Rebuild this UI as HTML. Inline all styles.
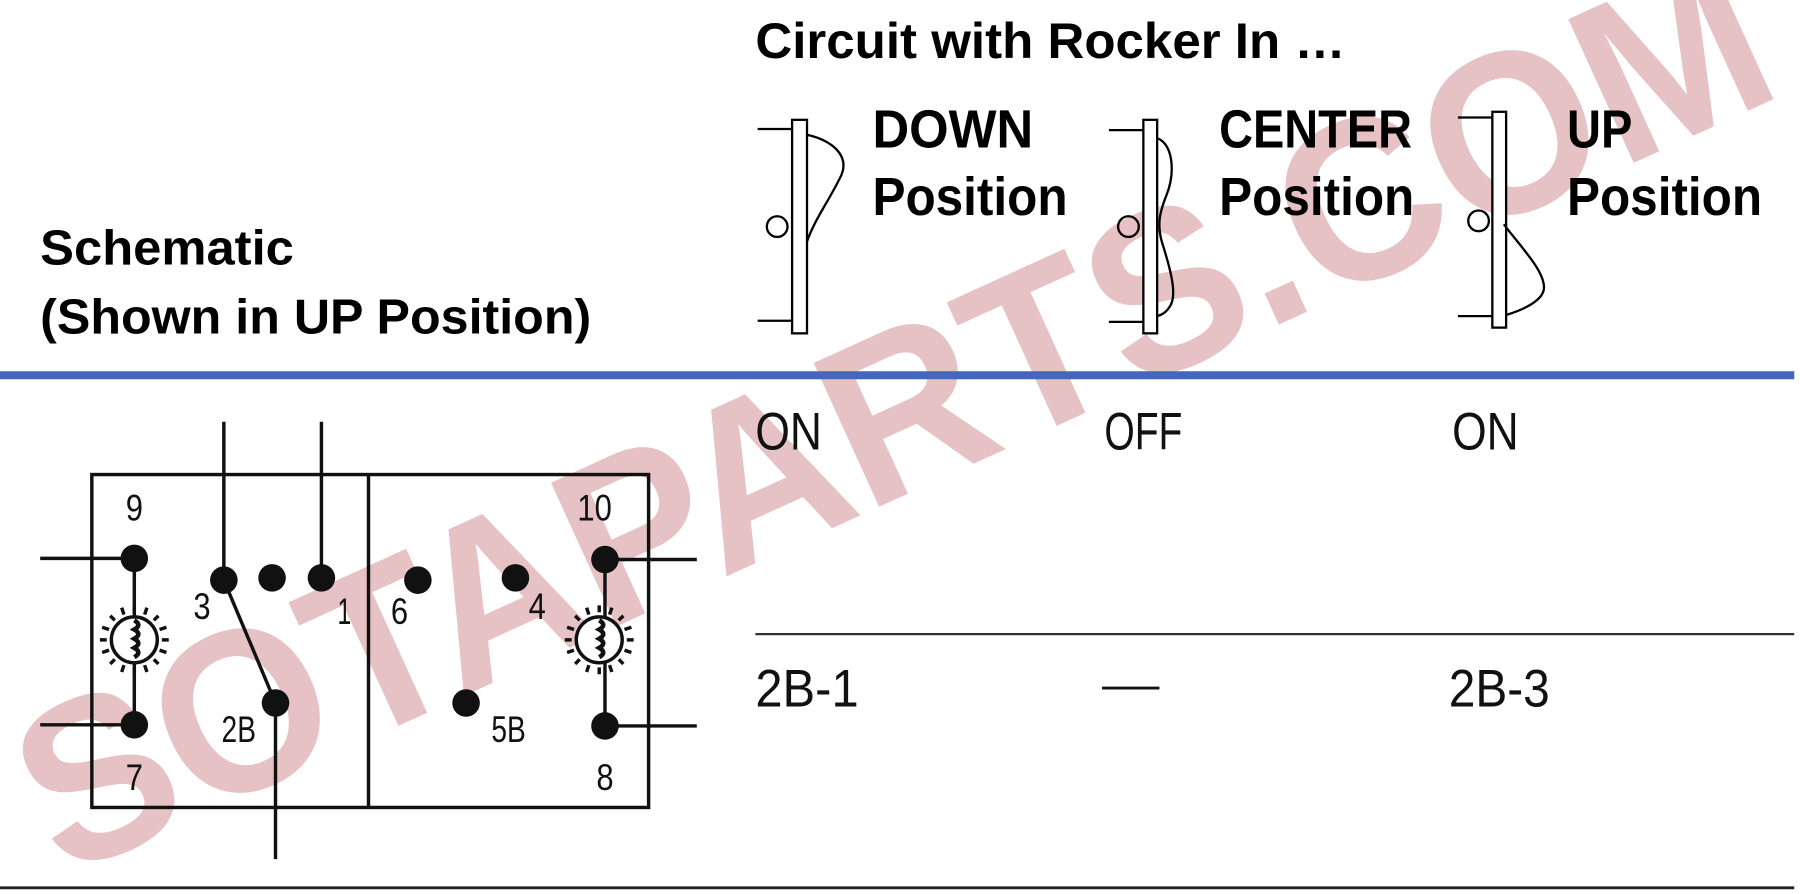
<!DOCTYPE html>
<html><head><meta charset="utf-8"><style>
html,body{margin:0;padding:0;background:#fff;}
svg{display:block;}
text{font-family:"Liberation Sans",sans-serif;}
</style></head><body>
<svg width="1800" height="894" viewBox="0 0 1568 778" xmlns="http://www.w3.org/2000/svg">
<!-- watermark -->
<text x="0" y="0" transform="translate(55,765) rotate(-24.5)" font-size="200" font-weight="bold" fill="#d9a3a6" opacity="0.65" textLength="1650" lengthAdjust="spacingAndGlyphs">SOTAPARTS.COM</text>

<!-- headers -->
<g font-weight="bold" fill="#000">
<text x="658" y="50" font-size="44" textLength="514" lengthAdjust="spacingAndGlyphs">Circuit with Rocker In …</text>
<text x="760" y="128" font-size="47" textLength="140" lengthAdjust="spacingAndGlyphs">DOWN</text>
<text x="760" y="187" font-size="47" textLength="170" lengthAdjust="spacingAndGlyphs">Position</text>
<text x="1062" y="128" font-size="47" textLength="168" lengthAdjust="spacingAndGlyphs">CENTER</text>
<text x="1062" y="187" font-size="47" textLength="170" lengthAdjust="spacingAndGlyphs">Position</text>
<text x="1365" y="128" font-size="47" textLength="57" lengthAdjust="spacingAndGlyphs">UP</text>
<text x="1365" y="187" font-size="47" textLength="170" lengthAdjust="spacingAndGlyphs">Position</text>
<text x="35" y="230" font-size="43" textLength="221" lengthAdjust="spacingAndGlyphs">Schematic</text>
<text x="35" y="290" font-size="43" textLength="480" lengthAdjust="spacingAndGlyphs">(Shown in UP Position)</text>
</g>

<!-- rockers -->
<g fill="none" stroke="#000" stroke-width="2">
<rect x="690" y="104" width="13" height="186" fill="#fff"/>
<line x1="660" y1="112" x2="690" y2="112"/><line x1="660" y1="279" x2="690" y2="279"/>
<circle cx="677" cy="197" r="9"/>
<path d="M703,117 C725,122 740,135 733,152 C722,175 710,190 703,210"/>
<rect x="996" y="104" width="12" height="186" fill="#fff"/>
<line x1="966" y1="113" x2="996" y2="113"/><line x1="966" y1="280" x2="996" y2="280"/>
<circle cx="983" cy="197" r="9"/>
<path d="M1008,120 C1022,125 1024,150 1016,170 C1010,185 1008,195 1012,210 C1020,235 1025,255 1020,265 C1016,272 1012,274 1008,275"/>
<rect x="1300" y="97" width="12" height="188" fill="#fff"/>
<line x1="1270" y1="102" x2="1300" y2="102"/><line x1="1270" y1="275" x2="1300" y2="275"/>
<circle cx="1288" cy="192" r="9"/>
<path d="M1310,195 C1325,215 1345,235 1345,250 C1345,262 1325,270 1312,274"/>
</g>

<!-- lines -->
<rect x="0" y="323" width="1563" height="7" fill="#4466bb"/>
<line x1="658" y1="552" x2="1563" y2="552" stroke="#333" stroke-width="2"/>
<line x1="0" y1="773" x2="1563" y2="773" stroke="#222" stroke-width="2.5"/>

<!-- table text -->
<g font-size="46" fill="#111">
<text x="658" y="391" textLength="58" lengthAdjust="spacingAndGlyphs">ON</text>
<text x="962" y="391" textLength="68" lengthAdjust="spacingAndGlyphs">OFF</text>
<text x="1265" y="391" textLength="58" lengthAdjust="spacingAndGlyphs">ON</text>
<text x="658" y="615" textLength="90" lengthAdjust="spacingAndGlyphs">2B-1</text>
<text x="1262" y="615" textLength="88" lengthAdjust="spacingAndGlyphs">2B-3</text>
</g>
<line x1="960" y1="599" x2="1010" y2="599" stroke="#111" stroke-width="2.5"/>

<!-- schematic -->
<g stroke="#111" stroke-width="3" fill="none">
<rect x="80" y="413" width="485" height="290"/>
<line x1="321" y1="413" x2="321" y2="703"/>
<line x1="195" y1="367" x2="195" y2="505"/>
<line x1="280" y1="367" x2="280" y2="503"/>
<line x1="35" y1="486" x2="117" y2="486"/>
<line x1="35" y1="631" x2="117" y2="631"/>
<line x1="117" y1="486" x2="117" y2="631"/>
<line x1="195" y1="505" x2="240" y2="612"/>
<line x1="240" y1="612" x2="240" y2="748"/>
<line x1="527" y1="487" x2="607" y2="487"/>
<line x1="527" y1="632" x2="607" y2="632"/>
<line x1="527" y1="487" x2="527" y2="632"/>
<g stroke-width="3">
<circle cx="117" cy="557" r="20" fill="#fff"/>
<circle cx="522" cy="557" r="20" fill="#fff"/>
<path d="M117,540 q7,4 0,8 q7,4 0,8 q7,4 0,8 q7,4 0,8" stroke-width="4"/>
<path d="M522,540 q7,4 0,8 q7,4 0,8 q7,4 0,8 q7,4 0,8" stroke-width="4"/>
</g>
<g stroke-width="3">
<path d="M117,533v-6M117,581v6M93,557h-6M141,557h6M100,540l-4,-4M134,540l4,-4M100,574l-4,4M134,574l4,4M108,535l-2,-6M126,535l2,-6M108,579l-2,6M126,579l2,6M95,548l-6,-2M139,548l6,-2M95,566l-6,2M139,566l6,2"/>
<path transform="translate(405,0)" d="M117,533v-6M117,581v6M93,557h-6M141,557h6M100,540l-4,-4M134,540l4,-4M100,574l-4,4M134,574l4,4M108,535l-2,-6M126,535l2,-6M108,579l-2,6M126,579l2,6M95,548l-6,-2M139,548l6,-2M95,566l-6,2M139,566l6,2"/>
</g>
</g>
<g fill="#111">
<circle cx="117" cy="486" r="12"/><circle cx="117" cy="631" r="12"/>
<circle cx="195" cy="505" r="12"/><circle cx="237" cy="503" r="12"/><circle cx="280" cy="503" r="12"/>
<circle cx="240" cy="612" r="12"/><circle cx="364" cy="505" r="12"/><circle cx="449" cy="503" r="12"/>
<circle cx="406" cy="612" r="12"/><circle cx="527" cy="487" r="12"/><circle cx="527" cy="632" r="12"/>
</g>
<g font-size="32" fill="#111" text-anchor="middle">
<text x="117" y="453" textLength="15" lengthAdjust="spacingAndGlyphs">9</text>
<text x="176" y="539" textLength="15" lengthAdjust="spacingAndGlyphs">3</text>
<text x="300" y="543" textLength="12" lengthAdjust="spacingAndGlyphs">1</text>
<text x="348" y="543" textLength="15" lengthAdjust="spacingAndGlyphs">6</text>
<text x="468" y="539" textLength="15" lengthAdjust="spacingAndGlyphs">4</text>
<text x="518" y="453" textLength="30" lengthAdjust="spacingAndGlyphs">10</text>
<text x="208" y="646" textLength="30" lengthAdjust="spacingAndGlyphs">2B</text>
<text x="443" y="646" textLength="30" lengthAdjust="spacingAndGlyphs">5B</text>
<text x="117" y="688" textLength="15" lengthAdjust="spacingAndGlyphs">7</text>
<text x="527" y="688" textLength="15" lengthAdjust="spacingAndGlyphs">8</text>
</g>
</svg>
</body></html>
